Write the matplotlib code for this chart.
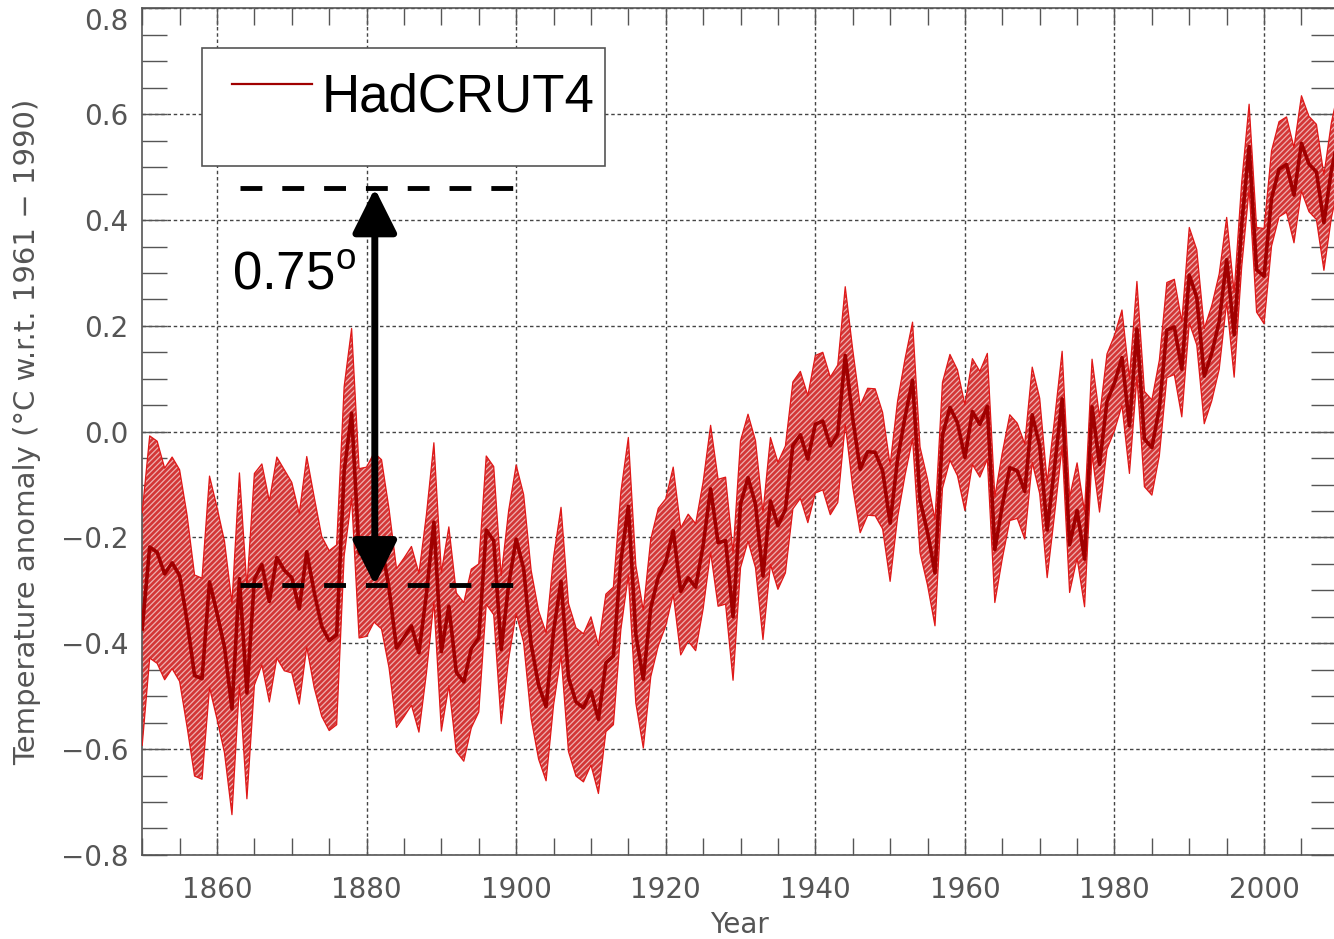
import numpy as np
import matplotlib
matplotlib.use('Agg')
import matplotlib.pyplot as plt
from matplotlib.ticker import MultipleLocator
from matplotlib.patches import Rectangle
from matplotlib.lines import Line2D

plt.rcParams['mathtext.fontset'] = 'custom'
plt.rcParams['mathtext.rm'] = 'Liberation Sans'
plt.rcParams['hatch.linewidth'] = 0.9

# HadCRUT4 global annual anomaly, median of the ensemble (deg C, 1961-1990 base)
years = np.arange(1850, 2013)
median = [
    -0.373, -0.218, -0.228, -0.269, -0.248, -0.272, -0.358, -0.461, -0.467, -0.284,
    -0.343, -0.407, -0.524, -0.278, -0.494, -0.279, -0.251, -0.321, -0.238, -0.262,
    -0.276, -0.335, -0.227, -0.304, -0.368, -0.395, -0.384, -0.075, 0.035, -0.230,
    -0.227, -0.200, -0.213, -0.296, -0.409, -0.389, -0.367, -0.418, -0.307, -0.171,
    -0.416, -0.330, -0.455, -0.473, -0.410, -0.390, -0.186, -0.206, -0.412, -0.289,
    -0.203, -0.259, -0.402, -0.479, -0.520, -0.377, -0.283, -0.465, -0.511, -0.522,
    -0.490, -0.544, -0.437, -0.424, -0.244, -0.141, -0.383, -0.468, -0.333, -0.275,
    -0.247, -0.187, -0.302, -0.276, -0.294, -0.215, -0.108, -0.210, -0.206, -0.350,
    -0.137, -0.087, -0.137, -0.273, -0.131, -0.178, -0.147, -0.026, -0.006, -0.052,
    0.014, 0.020, -0.027, -0.004, 0.144, 0.025, -0.071, -0.038, -0.039, -0.074,
    -0.173, -0.052, 0.028, 0.097, -0.129, -0.190, -0.267, -0.007, 0.046, 0.017,
    -0.049, 0.038, 0.014, 0.048, -0.223, -0.140, -0.068, -0.074, -0.113, 0.032,
    -0.027, -0.186, -0.065, 0.062, -0.214, -0.149, -0.241, 0.047, -0.062, 0.057,
    0.092, 0.140, 0.011, 0.194, -0.014, -0.030, 0.045, 0.192, 0.198, 0.118,
    0.296, 0.254, 0.105, 0.148, 0.208, 0.325, 0.183, 0.390, 0.539, 0.306,
    0.294, 0.441, 0.496, 0.505, 0.447, 0.545, 0.506, 0.491, 0.395, 0.494,
    0.560, 0.425, 0.470,
]
# half width of the combined uncertainty range
uncert = [
    0.22, 0.21, 0.21, 0.20, 0.20, 0.20, 0.20, 0.19, 0.19, 0.20,
    0.20, 0.20, 0.20, 0.20, 0.20, 0.20, 0.19, 0.19, 0.19, 0.19,
    0.18, 0.18, 0.18, 0.18, 0.17, 0.17, 0.17, 0.16, 0.16, 0.16,
    0.16, 0.16, 0.16, 0.15, 0.15, 0.15, 0.15, 0.15, 0.15, 0.15,
    0.15, 0.15, 0.15, 0.15, 0.15, 0.14, 0.14, 0.14, 0.14, 0.14,
    0.14, 0.14, 0.14, 0.14, 0.14, 0.14, 0.14, 0.14, 0.14, 0.14,
    0.14, 0.14, 0.13, 0.13, 0.13, 0.13, 0.13, 0.13, 0.13, 0.13,
    0.12, 0.12, 0.12, 0.12, 0.12, 0.12, 0.12, 0.12, 0.12, 0.12,
    0.12, 0.12, 0.12, 0.12, 0.12, 0.12, 0.12, 0.12, 0.12, 0.12,
    0.13, 0.13, 0.13, 0.13, 0.13, 0.13, 0.12, 0.12, 0.12, 0.11,
    0.11, 0.11, 0.11, 0.11, 0.10, 0.10, 0.10, 0.10, 0.10, 0.10,
    0.10, 0.10, 0.10, 0.10, 0.10, 0.10, 0.10, 0.09, 0.09, 0.09,
    0.09, 0.09, 0.09, 0.09, 0.09, 0.09, 0.09, 0.09, 0.09, 0.09,
    0.09, 0.09, 0.09, 0.09, 0.09, 0.09, 0.09, 0.09, 0.09, 0.09,
    0.09, 0.09, 0.09, 0.09, 0.09, 0.08, 0.08, 0.08, 0.08, 0.08,
    0.09, 0.09, 0.09, 0.09, 0.09, 0.09, 0.09, 0.09, 0.09, 0.09,
    0.09, 0.09, 0.09,
]

# warming marked between the late 19th century and the present
rise_base = -0.29
rise = 0.75
rise_years = (1863.1, 1899.8)
rise_x = 1881.1

median = np.array(median)
uncert = np.array(uncert)
lower = median - uncert
upper = median + uncert

grey = '#555555'
fig = plt.figure(figsize=(13.34, 9.39), dpi=100)
ax = fig.add_axes([0.1066, 0.0896, 0.8948, 0.9014])

ax.fill_between(years, lower, upper, facecolor='#d33636', edgecolor='#eeb0b0',
                hatch='//////', linewidth=0, zorder=2)
ax.plot(years, upper, color='#e01818', lw=0.9, zorder=3)
ax.plot(years, lower, color='#e01818', lw=0.9, zorder=3)
ax.plot(years, median, color='#a00000', lw=2.6, zorder=4)

ax.set_xlim(1850, 2009.6)
ax.set_ylim(-0.8, 0.8)
ax.xaxis.set_major_locator(MultipleLocator(20))
ax.xaxis.set_minor_locator(MultipleLocator(5))
ax.yaxis.set_major_locator(MultipleLocator(0.2))
ax.yaxis.set_minor_locator(MultipleLocator(0.05))
ax.grid(True, which='major', color='#444444', lw=1.0, linestyle=(0, (2.5, 2)))
ax.set_axisbelow(True)

ax.tick_params(axis='both', which='both', direction='in', color=grey,
               top=True, right=True, width=1.0, labelcolor=grey, labelsize=20)
ax.tick_params(axis='x', which='both', length=12, pad=15)
ax.tick_params(axis='y', which='both', length=18, pad=10)
for s in ax.spines.values():
    s.set_color(grey)
    s.set_linewidth(1.2)

ax.set_xlabel('Year', color=grey, fontsize=20)
ax.set_ylabel('Temperature anomaly (°C w.r.t. 1961 − 1990)', color=grey, fontsize=21)
ax.xaxis.set_label_coords(0.5, -0.066)
ax.yaxis.set_label_coords(-0.085, 0.5)

# legend box
ax.add_patch(Rectangle((0.0501, 0.8139), 0.3376, 0.1394, transform=ax.transAxes,
                       facecolor='white', edgecolor=grey, lw=1.2, zorder=6))
ax.add_line(Line2D([0.0752, 0.1422], [0.9107, 0.9107], transform=ax.transAxes,
                   color='#a00000', lw=1.6, zorder=7))
ax.text(0.1506, 0.8777, 'HadCRUT4', transform=ax.transAxes, fontsize=38,
        family='Liberation Sans', va='baseline', ha='left', zorder=7)

# 0.75 degree rise marker
for lev in (rise_base, rise_base + rise):
    ax.plot(rise_years, [lev, lev], color='black', lw=3.5,
            linestyle=(0, (4.5, 4.1)), zorder=8)
ax.annotate('', xy=(rise_x, rise_base + rise), xytext=(rise_x, rise_base),
            arrowprops=dict(arrowstyle='<|-|>', lw=5, color='black',
                            mutation_scale=68, shrinkA=0, shrinkB=0),
            zorder=9)
ax.text(0.0752, 0.6674, '0.75$^{\\mathrm{o}}$', transform=ax.transAxes,
        fontsize=38, family='Liberation Sans', va='baseline', ha='left', zorder=9)

# keep the top y label inside the figure
fig.canvas.draw()
for lab in ax.get_yticklabels():
    if lab.get_position()[1] > 0.79:
        lab.set_verticalalignment('top')

fig.savefig('out.png', dpi=100)
